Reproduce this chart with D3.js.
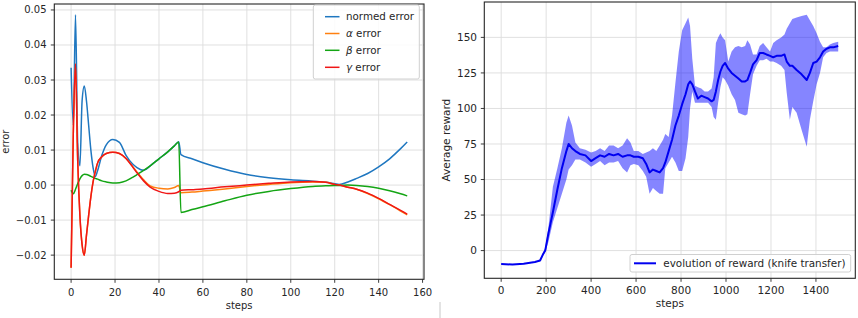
<!DOCTYPE html>
<html><head><meta charset="utf-8">
<script src="https://cdn.jsdelivr.net/npm/d3@7/dist/d3.min.js"></script>
<style>
body{margin:0;background:#fff;}
svg{display:block;font-family:"DejaVu Sans",sans-serif;}
</style></head><body>
<svg id="c" width="858" height="318"></svg>
<script>
// ---------- Left chart data ----------
const errSteps = [0,1,2,3,4,5,6,7,8,9,10,11,12,14,16,19,22,25,28,30,33,36,40,44,47,49,50,55,60,70,80,90,100,110,116,120,122,126,130,135,140,145,150,153];
const normedErr = [.0335,.017,.0486,.012,.0055,.024,.0283,.024,.017,.010,.005,.0024,.004,.0085,.0115,.013,.0122,.0085,.006,.005,.0042,.0055,.0075,.0095,.0112,.0124,.0087,.0075,.0064,.0045,.003,.0021,.0015,.0011,.0008,.0004,.0002,.0009,.0019,.0033,.0052,.0075,.0104,.0123];
const alphaErr = [-.0236,.015,.0346,.007,-.0086,-.017,-.020,-.0143,-.0086,-.0033,.0009,.0038,.0062,.0081,.009,.0094,.009,.0076,.0053,.0037,.0015,-.0002,-.0009,-.0011,-.0007,-.0001,-.0022,-.002,-.0017,-.0011,-.0004,.0002,.0007,.0009,.0008,.0002,0,-.0006,-.0012,-.0024,-.0039,-.0056,-.0074,-.0085];
const betaErr = [-.0015,-.0025,-.0012,.0004,.0018,.0027,.0031,.003,.0028,.0025,.0022,.0019,.0017,.0012,.0009,.0006,.0007,.0012,.0022,.003,.0042,.0055,.0075,.0095,.0112,.0123,-.0078,-.007,-.0062,-.0045,-.0029,-.0018,-.001,-.0004,-.0002,-.0001,-.0001,0,-.0001,-.0004,-.0009,-.0016,-.0025,-.0031];
const gammaErr = [-.0236,.015,.0346,.007,-.0086,-.017,-.020,-.0143,-.0086,-.0033,.0009,.0038,.0062,.0081,.009,.0094,.009,.0076,.0052,.0035,.0012,-.0006,-.0018,-.0024,-.0023,-.0019,-.0015,-.0013,-.0011,-.0005,0,.0005,.0009,.001,.0008,.0002,0,-.0006,-.0012,-.0023,-.0038,-.0055,-.0072,-.0083];
const errNames = ["normed error","α error","β error","γ error"];
const errXTicks = [0,20,40,60,80,100,120,140,160];
const errYTicks = [-0.02,-0.01,0,0.01,0.02,0.03,0.04,0.05];

// ---------- Right chart data ----------
const rewardSteps = [0,50,100,150,173,185,196,210,230,250,270,290,300,315,330,350,375,400,420,440,460,480,500,520,540,560,575,590,610,630,645,660,675,690,705,720,730,745,760,775,790,805,820,832,840,850,862,875,890,905,920,936,945,955,965,975,985,996,1010,1025,1040,1055,1070,1085,1095,1107,1120,1136,1150,1165,1180,1196,1210,1225,1245,1260,1270,1284,1295,1314,1336,1359,1373,1388,1403,1418,1432,1447,1462,1477,1499];
const rewardMean = [-9.5,-9.8,-9.3,-8,-7,-3,0,12,27,43,58,70,75,72,70,68,67,63,65,67,66,68,67,68,66,67,67,66,66,65,61,55,57,56,55,58,62,70,78,88,95,103,110,117,119,117,112,107,109,108,107,105,106,112,120,126,130,132,128,125,123,121,119,119,120,125,131,134,139,139,138,137,136,137,137,138,133,130,130,127,124,120,125,132,133,136,140,142,143,143,144];
const rewardLow = [-9.5,-9.8,-9.3,-8,-7.5,-4,-1,6,20,30,40,50,57,60,64,64,62,59,61,63,60,62,62,63,58,55,60,61,60,56,52,40,44,42,40,40,58,62,66,62,56,56,65,80,100,112,104,104,104,104,104,101,94,92,104,115,122,120,116,110,106,97,96,95,96,110,124,130,134,134,135,133,133,132,130,127,111,92,101,97,85,73,92,105,117,125,136,139,140,140,140];
const rewardHigh = [-9.5,-9.8,-9.3,-8,-6.5,-2,2,16,45,58,72,90,95,88,76,72,71,69,70,72,70,74,74,72,74,79,76,70,70,68,69,70,72,70,74,78,82,80,95,118,140,155,160,164,158,135,116,115,114,112,112,114,122,146,150,153,150,148,133,140,143,144,143,144,148,145,138,138,144,146,143,140,146,148,150,152,156,160,163,164,165,166,162,158,153,147,143,143,145,146,147];
const rewardXTicks = [0,200,400,600,800,1000,1200,1400];
const rewardYTicks = [0,25,50,75,100,125,150];
const rewardLabel = "evolution of reward (knife transfer)";

const svg = d3.select("#c");
const gridColor = "#dcdcdc";
const frameColor = "#262626";
const textColor = "#262626";

function drawFrame(g, x0, x1, y0, y1, xs, ys, xt, yt, fmtX, fmtY, fs, xlabY, ylabX, xlab, ylab) {
  // grid
  g.selectAll(null).data(xt).enter().append("line")
    .attr("x1", d => xs(d)).attr("x2", d => xs(d)).attr("y1", y0).attr("y2", y1)
    .attr("stroke", gridColor).attr("stroke-width", 0.9);
  g.selectAll(null).data(yt).enter().append("line")
    .attr("y1", d => ys(d)).attr("y2", d => ys(d)).attr("x1", x0).attr("x2", x1)
    .attr("stroke", gridColor).attr("stroke-width", 0.9);
}
function drawAxes(g, x0, x1, y0, y1, xs, ys, xt, yt, fmtX, fmtY, fs, xTickBase, yTickRight) {
  g.append("rect").attr("x", x0).attr("y", y0).attr("width", x1 - x0).attr("height", y1 - y0)
    .attr("fill", "none").attr("stroke", frameColor).attr("stroke-width", 1.1);
  g.selectAll(null).data(xt).enter().append("line")
    .attr("x1", d => xs(d)).attr("x2", d => xs(d)).attr("y1", y1).attr("y2", y1 + 3.5)
    .attr("stroke", frameColor).attr("stroke-width", 0.9);
  g.selectAll(null).data(xt).enter().append("text")
    .attr("x", d => xs(d)).attr("y", xTickBase).attr("text-anchor", "middle")
    .attr("font-size", fs).attr("fill", textColor).text(fmtX);
  g.selectAll(null).data(yt).enter().append("line")
    .attr("y1", d => ys(d)).attr("y2", d => ys(d)).attr("x1", x0 - 3.5).attr("x2", x0)
    .attr("stroke", frameColor).attr("stroke-width", 0.9);
  g.selectAll(null).data(yt).enter().append("text")
    .attr("x", yTickRight).attr("y", d => ys(d)).attr("dy", "0.35em").attr("text-anchor", "end")
    .attr("font-size", fs).attr("fill", textColor).text(fmtY);
}

// ---------- Left chart ----------
{
  const L = 54.3, R = 424, T = 4, B = 279.3;
  const x = d3.scaleLinear().domain([-7.65, 160.65]).range([L, R]);
  const y = d3.scaleLinear().domain([-0.0269, 0.0517]).range([B, T]);
  const g = svg.append("g");
  drawFrame(g, L, R, T, B, x, y, errXTicks, errYTicks);
  const colors = ["#1f77c0", "#ff8010", "#14a514", "#f01616"];
  const series = [normedErr, alphaErr, betaErr, gammaErr];
  const line = d3.line().x((d, i) => x(errSteps[i])).y(d => y(d)).curve(d3.curveMonotoneX);
  const clip = g.append("clipPath").attr("id", "clipL").append("rect")
    .attr("x", L).attr("y", T).attr("width", R - L).attr("height", B - T);
  series.forEach((s, k) => {
    g.append("path").attr("d", line(s)).attr("fill", "none")
      .attr("stroke", colors[k]).attr("stroke-width", 1.5).attr("clip-path", "url(#clipL)")
      .attr("stroke-linejoin", "round");
  });
  drawAxes(g, L, R, T, B, x, y, errXTicks, errYTicks, d => d3.format("d")(d), d => d3.format(".2f")(d), 10, 296, 46.5);
  g.append("text").attr("x", (L + R) / 2).attr("y", 309).attr("text-anchor", "middle")
    .attr("font-size", 10).attr("fill", textColor).text("steps");
  g.append("text").attr("transform", `translate(8.5,${(T + B) / 2}) rotate(-90)`).attr("text-anchor", "middle")
    .attr("font-size", 10).attr("fill", textColor).text("error");
  // legend
  const lg = g.append("g");
  lg.append("rect").attr("x", 313.3).attr("y", 5).attr("width", 106).attr("height", 74).attr("rx", 2)
    .attr("fill", "#fff").attr("fill-opacity", 0.85).attr("stroke", "#d0d0d0").attr("stroke-width", 1);
  const ly = [16.7, 33.5, 50.3, 67.3];
  errNames.forEach((n, k) => {
    lg.append("line").attr("x1", 325).attr("x2", 339.5).attr("y1", ly[k]).attr("y2", ly[k])
      .attr("stroke", colors[k]).attr("stroke-width", 1.5);
    const t = lg.append("text").attr("x", 346).attr("y", ly[k]).attr("dy", "0.35em")
      .attr("font-size", 10.3).attr("fill", textColor);
    if (k === 0) t.text(n);
    else {
      t.append("tspan").attr("font-style", "italic").text(n.split(" ")[0]);
      t.append("tspan").text(" " + n.split(" ").slice(1).join(" "));
    }
  });
}

// ---------- Right chart ----------
{
  const L = 484.3, R = 855.3, T = 2, B = 278.3;
  const x = d3.scaleLinear().domain([-75, 1575]).range([L, R]);
  const y = d3.scaleLinear().domain([-19.5, 174.9]).range([B, T]);
  const g = svg.append("g");
  drawFrame(g, L, R, T, B, x, y, rewardXTicks, rewardYTicks);
  const area = d3.area().x((d, i) => x(rewardSteps[i])).y0((d, i) => y(rewardLow[i])).y1((d, i) => y(rewardHigh[i]));
  g.append("path").attr("d", area(rewardMean)).attr("fill", "#0000ff").attr("fill-opacity", 0.48).attr("stroke", "none");
  const line = d3.line().x((d, i) => x(rewardSteps[i])).y(d => y(d));
  g.append("path").attr("d", line(rewardMean)).attr("fill", "none").attr("stroke", "#0000f0")
    .attr("stroke-width", 2).attr("stroke-linejoin", "round");
  drawAxes(g, L, R, T, B, x, y, rewardXTicks, rewardYTicks, d => d3.format("d")(d), d => d3.format("d")(d), 10.5, 294, 477);
  g.append("text").attr("x", (L + R) / 2).attr("y", 307).attr("text-anchor", "middle")
    .attr("font-size", 10.5).attr("fill", textColor).text("steps");
  g.append("text").attr("transform", `translate(450,${(T + B) / 2}) rotate(-90)`).attr("text-anchor", "middle")
    .attr("font-size", 10.5).attr("fill", textColor).text("Average reward");
  const lg = g.append("g");
  lg.append("rect").attr("x", 630).attr("y", 254.5).attr("width", 220.7).attr("height", 17.5).attr("rx", 2)
    .attr("fill", "#fff").attr("fill-opacity", 0.85).attr("stroke", "#d0d0d0").attr("stroke-width", 1);
  lg.append("line").attr("x1", 634).attr("x2", 656).attr("y1", 263.3).attr("y2", 263.3)
    .attr("stroke", "#0000f0").attr("stroke-width", 2);
  lg.append("text").attr("x", 663.3).attr("y", 263.3).attr("dy", "0.35em").attr("font-size", 10.4)
    .attr("fill", textColor).text(rewardLabel);
}
// small separator artifact at bottom
svg.append("line").attr("x1", 440).attr("x2", 440).attr("y1", 302).attr("y2", 318)
  .attr("stroke", "#c8c8c8").attr("stroke-width", 1);
</script>
</body></html>
